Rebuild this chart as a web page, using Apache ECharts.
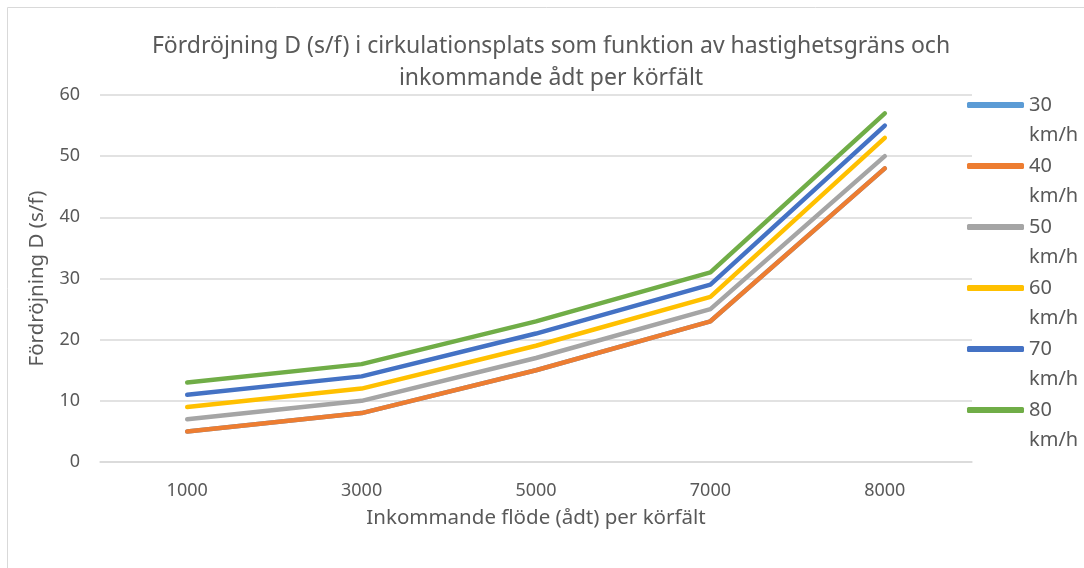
<!DOCTYPE html>
<html>
<head>
<meta charset="utf-8">
<script src="https://cdn.jsdelivr.net/npm/echarts@6/dist/echarts.min.js"></script>
<style>
    html, body { margin: 0; padding: 0; background: #fff; }
    #chart { width: 1084px; height: 568px; }
</style>
</head>
<body>
<div id="chart"></div>
<script>
    // categories: inkommande flöde (ådt) per körfält
    var flows = ['1000', '3000', '5000', '7000', '8000'];
    var speeds = ['30 km/h', '40 km/h', '50 km/h', '60 km/h', '70 km/h', '80 km/h'];
    var colors = ['#5B9BD5', '#ED7D31', '#A5A5A5', '#FFC000', '#4472C4', '#70AD47'];

    // fördröjning D (s/f)
    var d30 = [5, 8, 15, 23, 48];
    var d40 = [5, 8, 15, 23, 48];
    var d50 = [7, 10, 17, 25, 50];
    var d60 = [9, 12, 19, 27, 53];
    var d70 = [11, 14, 21, 29, 55];
    var d80 = [13, 16, 23, 31, 57];
    var values = [d30, d40, d50, d60, d70, d80];

    var font = 'Noto Sans';
    var textCol = '#595959';

    var myChart = echarts.init(document.getElementById('chart'));

    var series = speeds.map(function (name, i) {
        return {
            name: name,
            type: 'line',
            data: values[i],
            showSymbol: false,
            symbol: 'none',
            lineStyle: { width: 4.5, color: colors[i], cap: 'round', join: 'round' },
            itemStyle: { color: colors[i] }
        };
    });

    var option = {
        animation: false,
        color: colors,
        title: {
            text: 'Fördröjning D (s/f) i cirkulationsplats som funktion av hastighetsgräns och\ninkommande ådt per körfält',
            left: 546,
            top: 25,
            textAlign: 'center',
            textStyle: { fontFamily: font, fontSize: 23, fontWeight: 'normal', color: textCol, lineHeight: 32 }
        },
        legend: {
            orient: 'vertical',
            left: 962,
            top: 55,
            itemWidth: 57,
            itemHeight: 6,
            itemGap: -29,
            icon: 'roundRect',
            formatter: function (name) {
                var p = name.split(' ');
                return '\n' + p[0] + '\n' + p[1];
            },
            textStyle: { fontFamily: font, fontSize: 20, color: textCol, lineHeight: 30 },
            data: speeds
        },
        grid: { left: 100, right: 112, top: 95, bottom: 106, containLabel: false },
        xAxis: {
            type: 'category',
            data: flows,
            boundaryGap: true,
            name: 'Inkommande flöde (ådt) per körfält',
            nameLocation: 'middle',
            nameGap: 46,
            nameTextStyle: { fontFamily: font, fontSize: 20.5, color: textCol },
            axisLine: { lineStyle: { color: '#d9d9d9', width: 1.5 } },
            axisTick: { show: false },
            axisLabel: { fontFamily: font, fontSize: 18, color: textCol, margin: 20 }
        },
        yAxis: {
            type: 'value',
            min: 0,
            max: 60,
            interval: 10,
            name: 'Fördröjning D (s/f)',
            nameLocation: 'middle',
            nameGap: 52,
            nameTextStyle: { fontFamily: font, fontSize: 20.5, color: textCol },
            axisLine: { show: false },
            axisTick: { show: false },
            axisLabel: { fontFamily: font, fontSize: 18, color: textCol, margin: 20 },
            splitLine: { lineStyle: { color: '#d9d9d9', width: 1.5 } }
        },
        graphic: [{
            type: 'rect',
            shape: { x: 7.5, y: 7.5, width: 1200, height: 700 },
            style: { fill: 'none', stroke: '#d9d9d9', lineWidth: 1 },
            silent: true
        }],
        series: series
    };

    myChart.setOption(option);
</script>
</body>
</html>
